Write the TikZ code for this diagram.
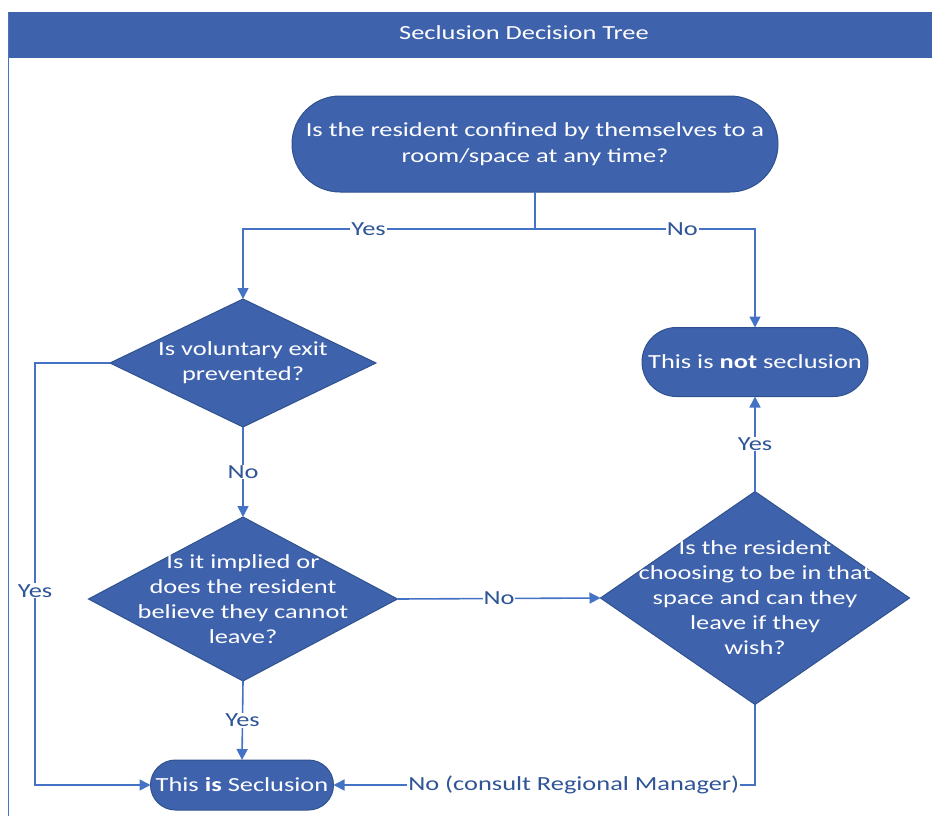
\documentclass[tikz,border=0pt]{standalone}
\usepackage{fontspec}
\setmainfont{Carlito}[FakeStretch=1.32]
\usetikzlibrary{shapes.geometric,shapes.misc,arrows.meta}
\definecolor{boxblue}{HTML}{3F62AD}
\definecolor{edgeblue}{HTML}{2F528F}
\definecolor{lineblue}{HTML}{4472C4}
\definecolor{labelblue}{HTML}{2F5597}

\begin{document}
\begin{tikzpicture}[x=1pt,y=-1pt,
  every node/.style={font=\fontsize{20}{25}\selectfont},
  terminal/.style={rounded rectangle, fill=boxblue, draw=edgeblue, line width=1pt,
    text=white, align=center, inner sep=0pt, outer sep=0pt},
  decision/.style={diamond, fill=boxblue, draw=edgeblue, line width=1pt,
    inner sep=0pt, outer sep=0pt},
  qtext/.style={text=white, align=center},
  flow/.style={draw=lineblue, line width=1.6pt},
  arr/.style={flow, -{Triangle[length=11pt,width=11pt]}},
  tag/.style={fill=white, text=labelblue, inner sep=1pt}
]
\useasboundingbox (0,0) rectangle (932,816);

% title band and frame
\fill[boxblue] (8,12) rectangle (940,58);
\draw[lineblue, line width=1pt] (8,12) -- (8,816);
\node[text=white] (title) at (524,33) {Seclusion Decision Tree};

% shapes
\node[terminal, minimum width=486pt, minimum height=96pt,
  font=\fontsize{20}{26}\selectfont] (start) at (535,144)
  {Is the resident confined by themselves to a\\room/space at any time?};
\node[decision, minimum width=266pt, minimum height=128pt] (exit) at (243,363) {};
\node[qtext] (exitq) at (exit) {Is voluntary exit\\prevented?};
\node[terminal, minimum width=226pt, minimum height=69pt] (notsec) at (755,362)
  {This is \textbf{not} seclusion};
\node[decision, minimum width=309pt, minimum height=164pt] (implied) at (243,599) {};
\node[qtext] (impliedq) at (implied) {Is it implied or\\does the resident\\believe they cannot\\leave?};
\node[decision, minimum width=309pt, minimum height=213pt] (choose) at (755,598) {};
\node[qtext] (chooseq) at (choose) {Is the resident\\choosing to be in that\\space and can they\\leave if they\\wish?};
\node[terminal, minimum width=183pt, minimum height=50pt] (sec) at (242,785)
  {This \textbf{is} Seclusion};

% connectors
\coordinate (split) at (535,229);
\draw[flow] (start.south) -- (split);
\draw[arr] (split) -- node[tag,pos=0.57]{Yes} (exit.north |- split) -- (exit.north);
\draw[arr] (split) -- node[tag,pos=0.67]{No} (notsec.north |- split) -- (notsec.north);
\draw[arr] (exit.south) -- node[tag]{No} (implied.north);
\draw[arr] (implied.east) -- node[tag]{No} (choose.west);
\draw[arr] (choose.north) -- node[tag]{Yes} (notsec.south);
\draw[arr] (implied.south) -- node[tag]{Yes} (sec.north);
\draw[arr] (choose.south) -- (choose.south |- sec)
  -- node[tag,pos=0.43]{No (consult Regional Manager)} (sec.east);
\draw[arr] (exit.west) -- ++(-75,0) coordinate (bend)
  -- node[tag,pos=0.54]{Yes} (bend |- sec) -- (sec.west);
\end{tikzpicture}
\end{document}
